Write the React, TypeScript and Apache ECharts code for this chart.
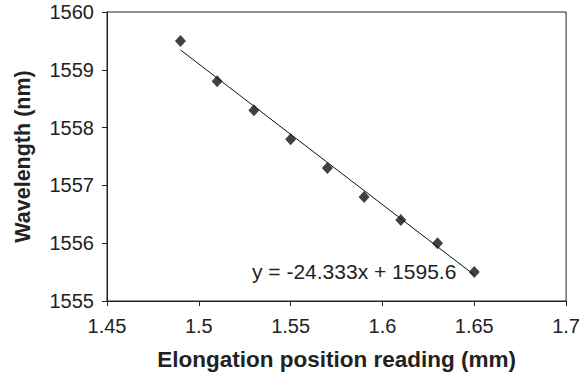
import React, { useEffect, useRef } from "react";
import * as echarts from "echarts";

const positions = [1.49, 1.51, 1.53, 1.55, 1.57, 1.59, 1.61, 1.63, 1.65];
const wavelengths = [1559.5, 1558.8, 1558.3, 1557.8, 1557.3, 1556.8, 1556.4, 1556.0, 1555.5];
const slope = -24.333;
const intercept = 1595.6;
const equationText = "y = -24.333x + 1595.6";

export default function App() {
  const ref = useRef<HTMLDivElement>(null);
  useEffect(() => {
    if (!ref.current) return;
    const chart = echarts.init(ref.current, undefined, { renderer: "svg" });
    const xs = [positions[0], positions[positions.length - 1]];
    const trend = xs.map((x) => [x, slope * x + intercept]);
    const font = "Arial, 'Liberation Sans', sans-serif";
    chart.setOption({
      animation: false,
      backgroundColor: "#fff",
      grid: { left: 107, top: 12, right: 15, bottom: 78, show: true, borderColor: "#222", borderWidth: 1 },
      xAxis: {
        type: "value",
        min: 1.45,
        max: 1.7,
        interval: 0.05,
        name: "Elongation position reading (mm)",
        nameLocation: "middle",
        nameGap: 47,
        nameTextStyle: { fontSize: 22.5, fontWeight: "bold", color: "#222", fontFamily: font },
        axisLine: { show: true, lineStyle: { color: "#222", width: 1 } },
        axisTick: { show: true, inside: false, length: 5, lineStyle: { color: "#222" } },
        axisLabel: { fontSize: 20, color: "#222", margin: 15, fontFamily: font, formatter: (v: number) => String(Number(v.toFixed(2))) },
        splitLine: { show: false },
      },
      yAxis: {
        type: "value",
        min: 1555,
        max: 1560,
        interval: 1,
        name: "Wavelength (nm)",
        nameLocation: "middle",
        nameGap: 73,
        nameRotate: 90,
        nameTextStyle: { fontSize: 21.5, fontWeight: "bold", color: "#222", fontFamily: font },
        axisLine: { show: true, lineStyle: { color: "#222", width: 1 } },
        axisTick: { show: true, inside: false, length: 5, lineStyle: { color: "#222" } },
        axisLabel: { fontSize: 20, color: "#222", margin: 13, fontFamily: font, formatter: (v: number) => String(v) },
        splitLine: { show: false },
      },
      graphic: [
        {
          type: "text",
          left: 252,
          top: 261,
          style: { text: equationText, fontSize: 21, fill: "#222", fontFamily: font },
        },
      ],
      series: [
        {
          type: "line",
          data: trend,
          symbol: "none",
          lineStyle: { color: "#111", width: 1 },
          z: 1,
        },
        {
          type: "scatter",
          data: positions.map((x, i) => [x, wavelengths[i]]),
          symbol: "diamond",
          symbolSize: [11, 12],
          itemStyle: { color: "#111" },
          z: 2,
        },
      ],
    });
    return () => chart.dispose();
  }, []);
  return <div ref={ref} style={{ width: 583, height: 379, position: "absolute", left: 0, top: 0 }} />;
}
